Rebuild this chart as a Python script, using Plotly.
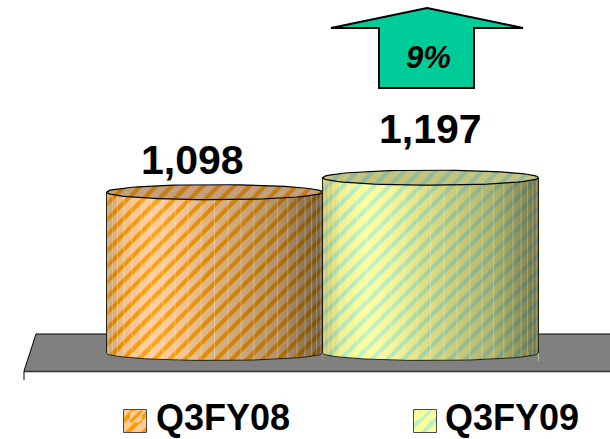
import numpy as np
import plotly.graph_objects as go

categories = ["Q3FY08", "Q3FY09"]
values = [1098, 1197]
growth_label = "9%"
bg_colors = ["#FFCC99", "#FFFF99"]
fg_colors = ["#FF9900", "#B8F2C4"]

W, H = 610, 439
BASE_PX = 353
UNITS_PER_PX = 6.826
X0_PX, PX_PER_CAT = 214.5, 216.0
SEMI = 7.5 * UNITS_PER_PX
FONT = "Liberation Sans, Arial, sans-serif"
PATTERN_SIZE = 11
PATTERN_SOLIDITY = 0.38


def px(x):
    return x / W


def py(y):
    return 1 - y / H


def ppath(points):
    return "M " + " L ".join(f"{px(a):.5f},{py(b):.5f}" for a, b in points) + " Z"


fig = go.Figure()
legend_ids = ["legend", "legend2"]

for i, (name, v) in enumerate(zip(categories, values)):
    fig.add_bar(
        x=[i], y=[v + 2 * SEMI], base=[-SEMI], width=1, name=name, legend=legend_ids[i],
        marker=dict(color=bg_colors[i], line=dict(width=0),
                    pattern=dict(shape="/", fgcolor=fg_colors[i], bgcolor=bg_colors[i],
                                 size=PATTERN_SIZE, solidity=PATTERN_SOLIDITY, fillmode="replace")),
        hoverinfo="skip",
    )

t = np.linspace(0, np.pi, 41)
for i, v in enumerate(values):
    left, right = i - 0.5, i + 0.5
    ex = i + 0.5 * np.cos(t)
    top_y = v + SEMI * np.sin(t)
    bot_y = -SEMI * np.sin(t)
    fig.add_scatter(x=[right, *ex, left, left, right, right],
                    y=[v, *top_y, v, v + SEMI * 1.1, v + SEMI * 1.1, v],
                    fill="toself", fillcolor="white", mode="none",
                    showlegend=False, hoverinfo="skip")
    fig.add_scatter(x=[right, *ex, left, left, right, right],
                    y=[0, *bot_y, 0, -SEMI * 1.1, -SEMI * 1.1, 0],
                    fill="toself", fillcolor="#808080", mode="none",
                    showlegend=False, hoverinfo="skip")
    sx = [*(i + 0.5 * np.cos(t)), *(i + 0.5 * np.cos(t[::-1]))]
    sy = [*(v - SEMI * np.sin(t)), *(-SEMI * np.sin(t[::-1]))]
    fig.add_scatter(
        x=sx, y=sy, mode="none", fill="toself", showlegend=False, hoverinfo="skip",
        fillgradient=dict(type="horizontal", start=left, stop=right,
                          colorscale=[[0, "rgba(90,60,0,0.30)"], [0.08, "rgba(60,60,0,0.08)"],
                                      [0.2, "rgba(255,255,255,0.08)"], [0.45, "rgba(70,70,30,0.16)"],
                                      [0.8, "rgba(40,40,20,0.36)"], [1, "rgba(20,20,10,0.58)"]]),
    )
    angles = np.linspace(0.08, np.pi - 0.08, 25)
    fx, fy = [], []
    for a in angles:
        fx += [i + 0.5 * np.cos(a), i + 0.5 * np.cos(a), None]
        fy += [v - SEMI * np.sin(a), -SEMI * np.sin(a), None]
    fig.add_scatter(x=fx, y=fy, mode="lines", line=dict(color="rgba(255,255,255,0.28)", width=1),
                    showlegend=False, hoverinfo="skip")
    a = np.linspace(0, 2 * np.pi, 81)
    fig.add_scatter(x=i + 0.5 * np.cos(a), y=v + SEMI * np.sin(a), mode="lines",
                    fill="toself", fillcolor="rgba(60,60,60,0.30)",
                    line=dict(color="black", width=1.2), showlegend=False, hoverinfo="skip")
    fig.add_scatter(x=[i - 0.5, *(i + 0.5 * np.cos(t[::-1])), i + 0.5, i + 0.5, None, i - 0.5, i - 0.5],
                    y=[0, *(-SEMI * np.sin(t[::-1])), 0, v, None, 0, v], mode="lines",
                    line=dict(color="rgba(20,20,0,0.9)", width=1), showlegend=False, hoverinfo="skip")

key_x = [135.5, 425.5]
for i in range(2):
    fig.add_bar(
        x=[key_x[i]], y=[23], base=[410], width=23, xaxis="x2", yaxis="y2", showlegend=False,
        marker=dict(color=bg_colors[i], line=dict(width=1, color="#4d4d4d"),
                    pattern=dict(shape="/", fgcolor=fg_colors[i], bgcolor=bg_colors[i],
                                 size=PATTERN_SIZE, solidity=PATTERN_SOLIDITY, fillmode="replace")),
        hoverinfo="skip",
    )

floor = [(24, 371), (36, 334), (W, 334), (W, 371)]
arrow = [(427, 8), (523, 28), (474, 28), (474, 88), (379, 88), (379, 28), (331, 28)]
shapes = [
    dict(type="path", xref="paper", yref="paper", layer="below", path=ppath(floor),
         fillcolor="#808080", line=dict(width=0)),
    dict(type="line", xref="paper", yref="paper", layer="below", x0=px(36), x1=1, y0=py(334), y1=py(334),
         line=dict(color="black", width=1)),
    dict(type="line", xref="paper", yref="paper", layer="below", x0=px(24), x1=px(36), y0=py(371), y1=py(334),
         line=dict(color="black", width=1)),
    dict(type="line", xref="paper", yref="paper", layer="below", x0=px(24), x1=1, y0=py(371.5), y1=py(371.5),
         line=dict(color="#333333", width=1.5)),
    dict(type="line", xref="paper", yref="paper", layer="below", x0=px(24), x1=px(24), y0=py(371), y1=py(380),
         line=dict(color="black", width=1)),
    dict(type="path", xref="paper", yref="paper", path=ppath(arrow),
         fillcolor="#00CC99", line=dict(color="black", width=2)),
]

label_shift = [-22, 0]
label_lift = [32, 49]
annotations = [
    dict(x=i, y=v, text=f"<b>{v:,}</b>", showarrow=False, xshift=label_shift[i], yshift=label_lift[i],
         xanchor="center", yanchor="middle", font=dict(family=FONT, size=41, color="black"))
    for i, v in enumerate(values)
]
annotations.append(dict(xref="paper", yref="paper", x=px(428), y=py(58), text=f"<b><i>{growth_label}</i></b>",
                        showarrow=False, xanchor="center", yanchor="middle",
                        font=dict(family=FONT, size=31, color="black")))

legend_font = dict(family=FONT, size=36, color="black", weight="bold")
legend_y = -7.5 / H
fig.update_layout(
    width=W, height=H, autosize=False, margin=dict(l=0, r=0, t=0, b=0, autoexpand=False),
    paper_bgcolor="white", plot_bgcolor="rgba(0,0,0,0)", barmode="overlay", bargap=0,
    xaxis=dict(visible=False, range=[(0 - X0_PX) / PX_PER_CAT, (W - X0_PX) / PX_PER_CAT], domain=[0, 1]),
    yaxis=dict(visible=False, range=[-(H - BASE_PX) * UNITS_PER_PX, BASE_PX * UNITS_PER_PX], domain=[0, 1]),
    xaxis2=dict(visible=False, range=[0, W], domain=[0, 1], anchor="y2"),
    yaxis2=dict(visible=False, range=[H, 0], domain=[0, 1], anchor="x2", overlaying="y"),
    shapes=shapes, annotations=annotations,
    legend=dict(x=px(116), y=legend_y, xanchor="left", yanchor="bottom", bgcolor="rgba(0,0,0,0)", font=legend_font),
    legend2=dict(x=px(405), y=legend_y, xanchor="left", yanchor="bottom", bgcolor="rgba(0,0,0,0)", font=legend_font),
    showlegend=True,
)

fig.write_html("out.html", config={"displayModeBar": False},
               post_script="document.body.style.margin='0';")
